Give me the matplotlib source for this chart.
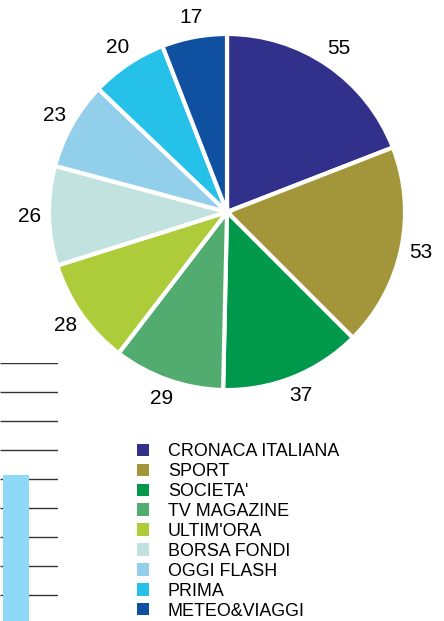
import numpy as np
import matplotlib
matplotlib.use('Agg')
import matplotlib.pyplot as plt
from matplotlib.patches import Patch

plt.rcParams['font.family'] = ['Liberation Sans', 'DejaVu Sans']

# dati
categories = ['CRONACA ITALIANA', 'SPORT', "SOCIETA'", 'TV MAGAZINE', "ULTIM'ORA",
              'BORSA FONDI', 'OGGI FLASH', 'PRIMA', 'METEO&VIAGGI']
values = [55, 53, 37, 29, 28, 26, 23, 20, 17]
colors = ['#31318c', '#a3953a', '#00984a', '#52ab6f', '#aecb3a',
          '#c2e2df', '#92cfea', '#25c1e8', '#0f50a1']

# frammento di un altro grafico in basso a sinistra
grid_levels = [0, 1, 2, 3, 4, 5, 6, 7, 8]
bar_value = [5.05]

W, H = 444, 621
fig = plt.figure(figsize=(W / 100, H / 100), dpi=100)

# asse principale in pixel
ax = fig.add_axes([0, 0, 1, 1])

explode = [0.035, 0.03, 0.025, 0.02, 0.02, 0.015, 0.01, 0.01, 0.01]
wedges, texts = ax.pie(values, colors=colors, labels=[str(v) for v in values],
                       startangle=90, counterclock=False, explode=explode,
                       center=(227, H - 212), radius=178, labeldistance=1.11,
                       wedgeprops=dict(edgecolor='white', linewidth=3),
                       textprops=dict(fontsize=15, color='black'), frame=True)
ax.set_xlim(0, W)
ax.set_ylim(0, H)
ax.axis('off')
for t in texts:
    t.set_ha('center')
    t.set_va('center')

handles = [Patch(facecolor=c, edgecolor='none') for c in colors]
ax.legend(handles, categories, loc='upper left', bbox_to_anchor=(137, H - 443),
          bbox_transform=ax.transData, frameon=False, fontsize=12.9,
          handlelength=0.67, handleheight=0.67, handletextpad=1.05,
          labelspacing=0.165, borderpad=0, borderaxespad=0)

# frammento in basso a sinistra
ax2 = fig.add_axes([0, 0, 58 / W, (H - 363) / H])
ax2.set_xlim(0, 1)
ax2.set_ylim(-0.9, 8)
ax2.hlines(grid_levels, 0, 1, color='#333333', linewidth=1, zorder=1)
ax2.bar([0.275], bar_value, bottom=-0.9, width=0.45, color='#8ed8f8', zorder=2)
ax2.axis('off')

plt.savefig('out.png', dpi=100)
plt.close()
